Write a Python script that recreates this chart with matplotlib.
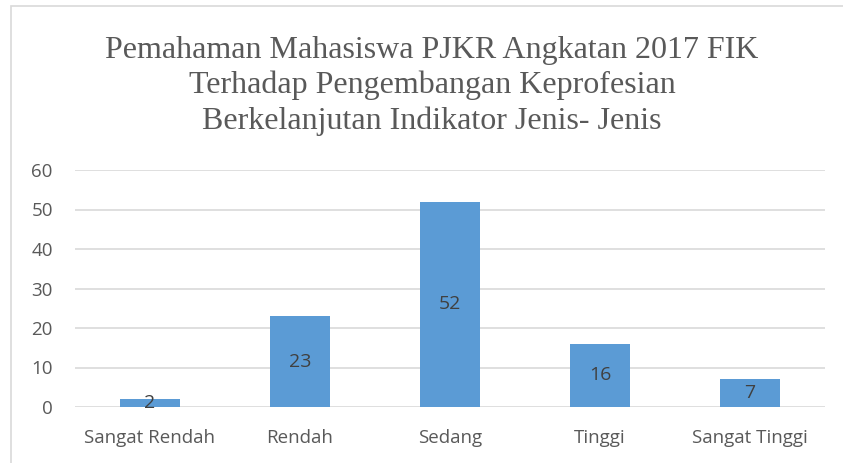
import matplotlib
matplotlib.use("Agg")
import matplotlib.pyplot as plt
from matplotlib.patches import Rectangle

categories = ["Sangat Rendah", "Rendah", "Sedang", "Tinggi", "Sangat Tinggi"]
values = [2, 23, 52, 16, 7]
yticks = [0, 10, 20, 30, 40, 50, 60]
title = ("Pemahaman Mahasiswa PJKR Angkatan 2017 FIK\n"
         "Terhadap Pengembangan Keprofesian\n"
         "Berkelanjutan Indikator Jenis- Jenis")

BAR = "#5B9BD5"
GRID = "#D9D9D9"
TXT = "#595959"

fig = plt.figure(figsize=(8.43, 4.63), dpi=100)
W, H = 843, 463

# outer chart border
fig.patches.append(Rectangle((11 / W, -0.05), 1.2, 1 - 6 / H + 0.05,
                             transform=fig.transFigure, fill=False,
                             edgecolor=GRID, linewidth=1.2))

ax = fig.add_axes([75 / W, 1 - 407 / H, 750 / W, 237 / H])
x = range(len(categories))
bars = ax.bar(x, values, width=0.4, color=BAR, zorder=2)
ax.set_xlim(-0.5, len(categories) - 0.5)
ax.set_ylim(0, 60)
ax.set_yticks(yticks)
ax.set_xticks(list(x))
ax.set_xticklabels(categories)
ax.grid(axis="y", color=GRID, linewidth=1.2, zorder=0)
for s in ax.spines.values():
    s.set_visible(False)
ax.tick_params(length=0, labelsize=13.5, labelcolor=TXT)
ax.tick_params(axis="x", pad=16)
ax.tick_params(axis="y", pad=16)
for lab in ax.get_xticklabels() + ax.get_yticklabels():
    lab.set_family("Open Sans")

for b, v in zip(bars, values):
    ax.text(b.get_x() + b.get_width() / 2, v / 2, str(v), ha="center",
            va="center", fontsize=14, color="#404040", family="Open Sans",
            zorder=3)

fig.text(432 / W, 1 - 86 / H, title, ha="center", va="center", fontsize=23,
         family="Liberation Serif", color=TXT, linespacing=1.26)

fig.savefig("out.png", dpi=100)
